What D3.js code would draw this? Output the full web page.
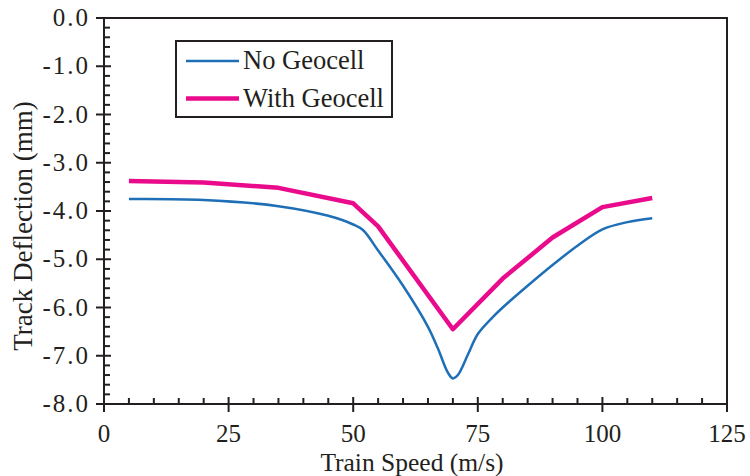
<!DOCTYPE html>
<html>
<head>
<meta charset="utf-8">
<script src="https://cdn.jsdelivr.net/npm/d3@7"></script>
<style>
  body { margin: 0; background: #fff; }
  text { font-family: "Liberation Serif", "Times New Roman", serif; fill: #231f20; }
</style>
</head>
<body>
<svg width="750" height="476"></svg>
<script>
// No Geocell (blue, smoothed)
const speedNo = [5, 20, 35, 45, 50, 52, 55, 60, 65, 67, 69, 70, 71, 73, 75, 78, 80, 85, 90, 95, 100, 105, 110];
const deflNo = [-3.75, -3.77, -3.9, -4.1, -4.28, -4.4, -4.82, -5.55, -6.4, -6.85, -7.35, -7.47, -7.4, -6.98, -6.55, -6.2, -6.0, -5.55, -5.12, -4.72, -4.38, -4.23, -4.15];
// With Geocell (pink)
const speedWith = [5, 20, 35, 50, 55, 70, 80, 90, 100, 110];
const deflWith = [-3.38, -3.41, -3.52, -3.84, -4.32, -6.45, -5.4, -4.55, -3.92, -3.73];

const xTicks = [0, 25, 50, 75, 100, 125];
const yTicks = [0, -1, -2, -3, -4, -5, -6, -7, -8];
const seriesNames = ["No Geocell", "With Geocell"];
const seriesColors = ["#1f6fb6", "#ea0a8c"];

const svg = d3.select("svg");
const ink = "#231f20";

const x = d3.scaleLinear().domain([0, 125]).range([104, 727]);
const y = d3.scaleLinear().domain([-8, 0]).range([404, 18]);

// minor ticks
const xMinor = d3.range(0, 126, 5).filter(v => v % 25 !== 0);
const yMinor = d3.range(0, 41).map(i => -i * 0.2).filter(v => Math.abs(v - Math.round(v)) > 1e-6);

svg.append("g").selectAll("line").data(xMinor).enter().append("line")
  .attr("x1", d => x(d)).attr("x2", d => x(d))
  .attr("y1", 404).attr("y2", 398)
  .attr("stroke", ink).attr("stroke-width", 2);

svg.append("g").selectAll("line").data(yMinor).enter().append("line")
  .attr("x1", 104).attr("x2", 110)
  .attr("y1", d => y(d)).attr("y2", d => y(d))
  .attr("stroke", ink).attr("stroke-width", 2);

// major ticks cross the axes
svg.append("g").selectAll("line").data(xTicks).enter().append("line")
  .attr("x1", d => x(d)).attr("x2", d => x(d))
  .attr("y1", 397).attr("y2", 412)
  .attr("stroke", ink).attr("stroke-width", 2);

svg.append("g").selectAll("line").data(yTicks).enter().append("line")
  .attr("x1", 96).attr("x2", 111)
  .attr("y1", d => y(d)).attr("y2", d => y(d))
  .attr("stroke", ink).attr("stroke-width", 2);

// frame
svg.append("rect")
  .attr("x", x(0)).attr("y", y(0))
  .attr("width", x(125) - x(0)).attr("height", y(-8) - y(0))
  .attr("fill", "none").attr("stroke", ink).attr("stroke-width", 2);

// tick labels
svg.append("g").selectAll("text").data(xTicks).enter().append("text")
  .attr("x", d => x(d)).attr("y", 442)
  .attr("text-anchor", "middle").attr("font-size", 25)
  .text(d => d);

svg.append("g").selectAll("text").data(yTicks).enter().append("text")
  .attr("x", 90).attr("y", d => y(d) + 8)
  .attr("text-anchor", "end").attr("font-size", 25)
  .attr("letter-spacing", 2)
  .text(d => d.toFixed(1));

// axis titles
svg.append("text")
  .attr("x", 412).attr("y", 471)
  .attr("text-anchor", "middle").attr("font-size", 25.5)
  .text("Train Speed (m/s)");

svg.append("text")
  .attr("transform", "translate(32, 226) rotate(-90)")
  .attr("text-anchor", "middle").attr("font-size", 27)
  .text("Track Deflection (mm)");

// lines
const lineNo = d3.line().x(d => x(d[0])).y(d => y(d[1])).curve(d3.curveCatmullRom.alpha(0.5));
const lineWith = d3.line().x(d => x(d[0])).y(d => y(d[1]));

svg.append("path")
  .datum(d3.zip(speedWith, deflWith))
  .attr("d", lineWith)
  .attr("fill", "none").attr("stroke", seriesColors[1]).attr("stroke-width", 4.5)
  .attr("stroke-linejoin", "round");

svg.append("path")
  .datum(d3.zip(speedNo, deflNo))
  .attr("d", lineNo)
  .attr("fill", "none").attr("stroke", seriesColors[0]).attr("stroke-width", 2.5);

// legend
const legend = svg.append("g");
legend.append("rect")
  .attr("x", 176).attr("y", 41).attr("width", 216).attr("height", 76)
  .attr("fill", "#fff").attr("stroke", ink).attr("stroke-width", 2);

const rows = legend.selectAll("g.row").data(seriesNames).enter().append("g")
  .attr("class", "row")
  .attr("transform", (d, i) => `translate(0, ${61 + i * 37.5})`);

rows.append("line")
  .attr("x1", 186).attr("x2", 239).attr("y1", 0).attr("y2", 0)
  .attr("stroke", (d, i) => seriesColors[i])
  .attr("stroke-width", (d, i) => i === 0 ? 2.5 : 4.5);

rows.append("text")
  .attr("x", 243).attr("y", 8)
  .attr("font-size", 26.5)
  .text(d => d);
</script>
</body>
</html>
